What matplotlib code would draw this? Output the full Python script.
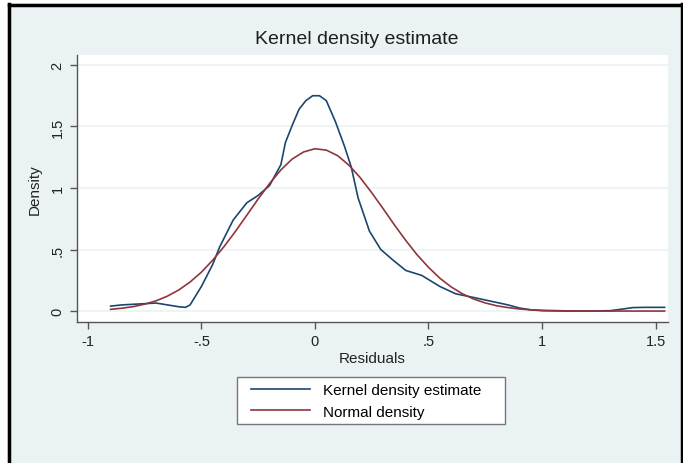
import matplotlib
matplotlib.use('Agg')
import matplotlib.pyplot as plt
from matplotlib.lines import Line2D

plt.rcParams['font.family'] = ['Liberation Sans', 'DejaVu Sans']

# Kernel density estimate of the residuals
kde_x = [-0.9, -0.85, -0.8, -0.75, -0.7, -0.65, -0.6, -0.57, -0.55, -0.5,
         -0.45, -0.42, -0.36, -0.3, -0.25, -0.2, -0.15, -0.13, -0.1, -0.07,
         -0.04, -0.01, 0.02, 0.05, 0.09, 0.13, 0.16, 0.19, 0.24, 0.29,
         0.34, 0.4, 0.47, 0.55, 0.62, 0.7, 0.75, 0.8, 0.85, 0.9,
         0.95, 1.0, 1.1, 1.2, 1.3, 1.35, 1.4, 1.45, 1.54]
kde_y = [0.04, 0.05, 0.055, 0.06, 0.065, 0.05, 0.035, 0.03, 0.05, 0.2,
         0.38, 0.52, 0.74, 0.88, 0.94, 1.02, 1.19, 1.37, 1.51, 1.64,
         1.71, 1.75, 1.75, 1.71, 1.54, 1.34, 1.17, 0.92, 0.65, 0.5,
         0.42, 0.33, 0.29, 0.2, 0.14, 0.11, 0.09, 0.07, 0.05, 0.025,
         0.01, 0.003, 0.0, 0.0, 0.003, 0.015, 0.028, 0.03, 0.03]

# Normal density overlay
norm_x = [-0.9, -0.85, -0.8, -0.75, -0.7, -0.65, -0.6, -0.55, -0.5, -0.45,
          -0.4, -0.35, -0.3, -0.25, -0.2, -0.15, -0.1, -0.05, 0.0, 0.05,
          0.1, 0.15, 0.2, 0.25, 0.3, 0.35, 0.4, 0.45, 0.5, 0.55,
          0.6, 0.65, 0.7, 0.75, 0.8, 0.85, 0.9, 0.95, 1.0, 1.1,
          1.2, 1.54]
norm_y = [0.014, 0.023, 0.036, 0.056, 0.083, 0.121, 0.171, 0.236, 0.316, 0.414,
          0.525, 0.648, 0.779, 0.911, 1.036, 1.147, 1.236, 1.293, 1.319, 1.308,
          1.263, 1.185, 1.083, 0.962, 0.833, 0.7, 0.574, 0.457, 0.356, 0.267,
          0.196, 0.14, 0.097, 0.066, 0.043, 0.028, 0.017, 0.01, 0.006, 0.002,
          0.0, 0.0]

xticks = [-1, -0.5, 0, 0.5, 1, 1.5]
xtick_labels = ['-1', '-.5', '0', '.5', '1', '1.5']
yticks = [0, 0.5, 1, 1.5, 2]
ytick_labels = ['0', '.5', '1', '1.5', '2']

BG = '#eaf2f3'
BLUE = '#1a476f'
RED = '#90353b'
W, H = 683, 464

fig = plt.figure(figsize=(W / 100, H / 100), dpi=100)
fig.patch.set_facecolor(BG)

# white margin + black frame of the screenshot (left, top, right)
fig.add_artist(plt.Rectangle((0, 0), 7 / W, 1, transform=fig.transFigure,
                             facecolor='white', edgecolor='none', zorder=0))
fig.add_artist(plt.Rectangle((0, 1 - 4 / H), 1, 4 / H, transform=fig.transFigure,
                             facecolor='white', edgecolor='none', zorder=0))
fig.add_artist(Line2D([8.5 / W, 8.5 / W], [0, 1 - 5 / H], transform=fig.transFigure,
                      color='black', lw=2.5))
fig.add_artist(Line2D([8.5 / W, 681.5 / W], [1 - 5.5 / H, 1 - 5.5 / H],
                      transform=fig.transFigure, color='black', lw=2.5))
fig.add_artist(Line2D([681.5 / W, 681.5 / W], [0, 1 - 5 / H], transform=fig.transFigure,
                      color='black', lw=2.5))

ax = fig.add_axes([77 / W, 1 - 323 / H, (668 - 77) / W, (323 - 56) / H])
ax.set_facecolor('white')

for yt in yticks:
    ax.axhline(yt, color=BG, lw=1.2, zorder=1)

ax.plot(kde_x, kde_y, color=BLUE, lw=1.2, zorder=3, label='Kernel density estimate')
ax.plot(norm_x, norm_y, color=RED, lw=1.2, zorder=3, label='Normal density')

ax.set_xlim(-1.048, 1.555)
ax.set_ylim(-0.089, 2.081)
ax.set_xticks(xticks)
ax.set_xticklabels(xtick_labels)
ax.set_yticks(yticks)
ax.set_yticklabels(ytick_labels, rotation=90, va='center')
ax.tick_params(axis='both', direction='out', length=5, width=1, color='#555555',
               labelsize=10.5, labelcolor='#222222', pad=4)
for side in ['top', 'right']:
    ax.spines[side].set_visible(False)
for side in ['left', 'bottom']:
    ax.spines[side].set_color('#555555')
    ax.spines[side].set_linewidth(1)

ax.set_xlabel('Residuals', fontsize=11, color='#222222', labelpad=2)
ax.set_ylabel('Density', fontsize=11, color='#222222', labelpad=6)

fig.text(357 / W, 1 - 40 / H, 'Kernel density estimate', ha='center', va='center',
         fontsize=14, color='#1e1e1e')

# legend box drawn separately so it can be wider than its contents
fig.add_artist(plt.Rectangle((237 / W, 1 - 425 / H), (505 - 237) / W, (425 - 378) / H,
                             transform=fig.transFigure, facecolor='white',
                             edgecolor='#777777', lw=1, zorder=2))
leg = fig.legend(loc='center left', bbox_to_anchor=(237 / W, 1 - 402 / H),
                 fontsize=11, frameon=False, handlelength=3.9,
                 handletextpad=0.85, borderpad=0.4, labelspacing=0.5)
leg.set_zorder(3)

plt.savefig('out.png', dpi=100, facecolor=fig.get_facecolor())
plt.close()
